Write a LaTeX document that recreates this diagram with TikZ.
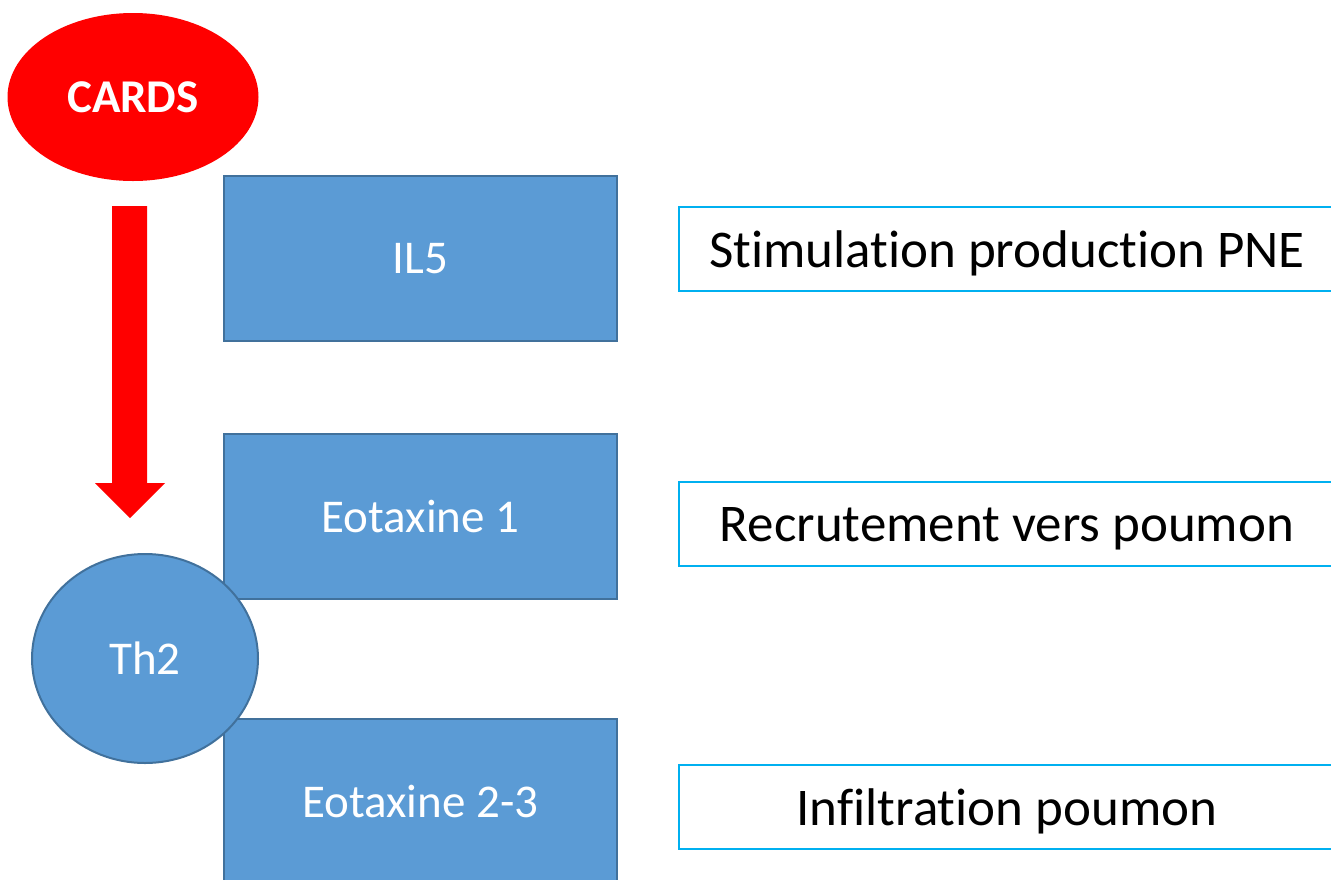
\documentclass[tikz,border=0pt]{standalone}
\usepackage{fontspec}
\setmainfont[Ligatures={NoCommon,NoRare}]{Carlito}
\usetikzlibrary{shapes.geometric}
\definecolor{bluefill}{HTML}{5B9BD5}
\definecolor{blueline}{HTML}{41719C}
\definecolor{cyanline}{HTML}{00B0F0}
\begin{document}
\begin{tikzpicture}[x=1pt,y=-1pt,
  cbox/.style={draw=blueline, line width=2pt, fill=bluefill, minimum width=393pt,
    minimum height=165pt, inner sep=0pt, text=white, font=\fontsize{47}{56}\selectfont},
  cell/.style={ellipse, draw=blueline, line width=2pt, fill=bluefill, inner sep=0pt,
    text=white, font=\fontsize{47}{56}\selectfont},
  effect/.style={draw=cyanline, line width=1.5pt, fill=white, minimum width=656pt,
    minimum height=84pt, inner sep=0pt, text depth=0pt, font=\fontsize{53}{64}\selectfont}]
\useasboundingbox (0,0) rectangle (1331,879);
\node[ellipse, fill=red, minimum width=251pt, minimum height=168pt, inner sep=0pt,
  text=white, font=\bfseries\fontsize{47}{56}\selectfont] (cards) at (133,97) {CARDS};
\fill[red] (112,206) -- (147,206) -- (147,483) -- (165,483) -- (130,518)
  -- (95,483) -- (112,483) -- cycle;
\node[cbox] (il5) at (420.5,258.5) {IL5};
\node[cbox] (eo1) at (420.5,516) {Eotaxine 1};
\node[cbox] (eo23) at (420.5,801) {Eotaxine 2-3};
\node[cell, minimum width=226pt, minimum height=209pt] (th2) at (145,658.5) {Th2};
\node[effect] (e1) at (1007,249) {Stimulation production PNE};
\node[effect] (e2) at (1007,524) {Recrutement vers poumon};
\node[effect] (e3) at (1007,807) {Infiltration poumon};
\end{tikzpicture}
\end{document}
